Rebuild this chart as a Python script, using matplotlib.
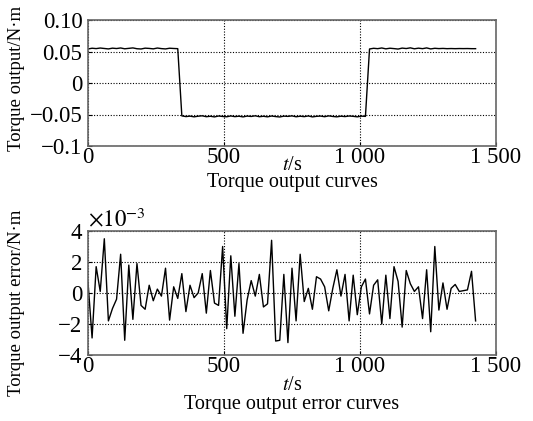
# -*- coding:utf-8 -*-
import matplotlib
matplotlib.use("Agg")
import matplotlib.pyplot as plt

matplotlib.rcParams['font.family'] = ['Liberation Serif', 'DejaVu Serif']
matplotlib.rcParams['mathtext.fontset'] = 'stix'
matplotlib.rcParams['axes.unicode_minus'] = True

# time axis, s (one sample every 15 s)
T_STEP = 15
N_PTS = 96
t = [i * T_STEP for i in range(N_PTS)]

# torque output, N·m
torque = [
    0.0540, 0.0552, 0.0546, 0.0555, 0.0548, 0.0541, 0.0553, 0.0547, 0.0556, 0.0543,
    0.0550, 0.0557, 0.0544, 0.0540, 0.0553, 0.0549, 0.0542, 0.0555, 0.0546, 0.0541,
    0.0552, 0.0548, 0.0545,
    -0.0522, -0.0533, -0.0526, -0.0537, -0.0527, -0.0521, -0.0535, -0.0528, -0.0538, -0.0524,
    -0.0531, -0.0536, -0.0523, -0.0534, -0.0527, -0.0538, -0.0525, -0.0531, -0.0521, -0.0535,
    -0.0528, -0.0537, -0.0524, -0.0533, -0.0539, -0.0526, -0.0530, -0.0522, -0.0536, -0.0527,
    -0.0534, -0.0523, -0.0538, -0.0529, -0.0525, -0.0535, -0.0522, -0.0531, -0.0537, -0.0527,
    -0.0533, -0.0524, -0.0529, -0.0537, -0.0526, -0.0530,
    0.0540, 0.0551, 0.0545, 0.0556, 0.0542, 0.0552, 0.0546, 0.0539, 0.0554, 0.0547,
    0.0558, 0.0543, 0.0553, 0.0545, 0.0557, 0.0541, 0.0551, 0.0546, 0.0549, 0.0545,
    0.0547, 0.0545, 0.0547, 0.0546, 0.0547, 0.0545, 0.0545,
]

# torque output error, x 1e-3 N·m
err = [
    0.7, -2.9, 1.7, 0.1, 3.5, -1.8, -1.0, -0.4, 2.5, -3.05,
    1.8, -1.7, 1.9, -0.8, -1.05, 0.5, -0.5, 0.25, -0.2, 1.6,
    -1.75, 0.4, -0.35, 1.25, -1.2, 0.5, -0.3, 0.0, 1.25, -1.3,
    1.45, -0.65, -0.8, 3.0, -2.3, 2.4, -1.5, 1.9, -2.6, -0.45,
    0.8, -0.2, 1.2, -0.9, -0.7, 3.4, -3.1, -3.05, 1.2, -3.2,
    1.6, -1.8, 2.5, -0.55, 0.3, -1.05, 1.05, 0.9, 0.4, -1.15,
    0.3, 1.5, -0.2, 1.2, -1.8, 1.15, -1.4, 0.4, 0.9, -1.35,
    0.5, 0.85, -2.0, 1.15, -1.65, 1.7, 0.75, -2.2, 1.45, 0.6,
    0.1, 0.4, -1.65, 1.5, -2.5, 3.0, -1.1, 0.65, -1.05, 0.3,
    0.55, 0.1, 0.15, 0.2, 1.4, -1.8,
]

x_ticks = [0, 500, 1000, 1500]
x_tick_labels = ['0', '500', '1 000', '1 500']
top_ticks = [-0.1, -0.05, 0, 0.05, 0.1]
top_tick_labels = ['\u22120.1', '\u22120.05', '0', '0.05', '0.10']
bot_ticks = [-4, -2, 0, 2, 4]
bot_tick_labels = ['\u22124', '\u22122', '0', '2', '4']

W, H = 533, 421
fig = plt.figure(figsize=(W / 100, H / 100), dpi=100)


def px_axes(left, top, right, bottom):
    return fig.add_axes([left / W, 1 - bottom / H, (right - left) / W, (bottom - top) / H])


def style_axes(ax):
    for s in ax.spines.values():
        s.set_color('0.4')
        s.set_linewidth(1.2)
    ax.tick_params(direction='in', length=3, width=0.8, labelsize=16.5, colors='black')
    ax.tick_params(axis='y', pad=4)
    ax.tick_params(axis='x', pad=1)
    ax.grid(True, color='black', linestyle=(0, (1, 1.5)), linewidth=0.8)
    ax.set_axisbelow(True)
    ax.set_xlim(0, 1500)
    ax.set_xticks(x_ticks)
    ax.set_xticklabels(x_tick_labels)


ax1 = px_axes(88, 20, 496, 146)
ax1.plot(t, torque, color='black', linewidth=1.0)
style_axes(ax1)
ax1.set_ylim(-0.1, 0.1)
ax1.set_yticks(top_ticks)
ax1.set_yticklabels(top_tick_labels)

ax2 = px_axes(88, 231, 496, 355)
ax2.plot(t, err, color='black', linewidth=1.0)
style_axes(ax2)
ax2.set_ylim(-4, 4)
ax2.set_yticks(bot_ticks)
ax2.set_yticklabels(bot_tick_labels)
ax2.text(0.0, 1.0, r'$\times10^{-3}$', transform=ax2.transAxes, fontsize=16.5,
         ha='left', va='bottom')

fig.text(17 / W, 1 - 78 / H, 'Torque output/N\u00b7m', rotation=90, ha='center', va='center', fontsize=13.5)
fig.text(17 / W, 1 - 303 / H, 'Torque output error/N\u00b7m', rotation=90, ha='center', va='center', fontsize=13.5)
fig.text(292 / W, 1 - 165 / H, r'$t$/s', ha='center', va='center', fontsize=14.5)
fig.text(292 / W, 1 - 183 / H, 'Torque output curves', ha='center', va='center', fontsize=14.5)
fig.text(292 / W, 1 - 386 / H, r'$t$/s', ha='center', va='center', fontsize=14.5)
fig.text(292 / W, 1 - 404 / H, 'Torque output error curves', ha='center', va='center', fontsize=14.5)

fig.savefig('out.png', dpi=100)
